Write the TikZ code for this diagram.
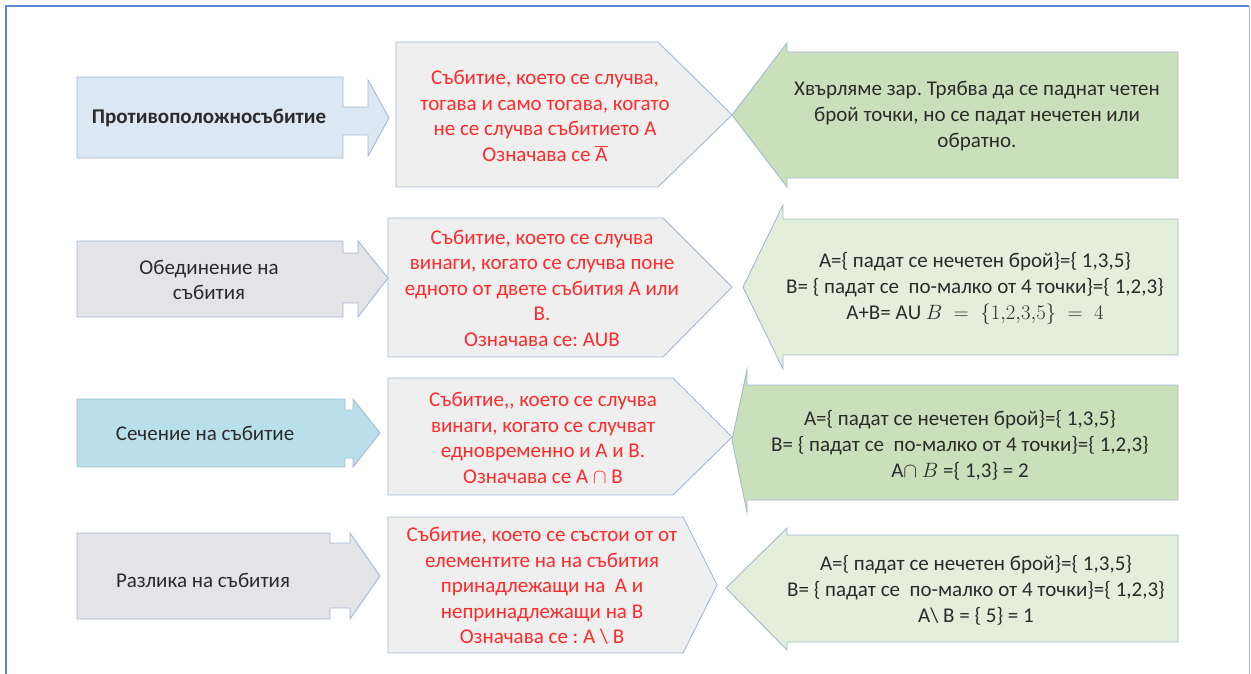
\documentclass[tikz,border=0pt]{standalone}
\usepackage{fontspec}
\setmainfont{Carlito}
\usepackage{xcolor}
\usepackage{tikz}
\usetikzlibrary{positioning}
\frenchspacing

\definecolor{edgeblue}{HTML}{A3B9D4}
\definecolor{frameblue}{HTML}{5A88D4}
\definecolor{iceblue}{HTML}{DCE7F4}
\definecolor{marble}{HTML}{E4E4E6}
\definecolor{waterblue}{HTML}{B9E0EA}
\definecolor{defgray}{HTML}{EFEFEF}
\definecolor{greendark}{HTML}{C9E0BA}
\definecolor{greenlight}{HTML}{E4EFDB}
\definecolor{defred}{HTML}{FF2A2A}
\definecolor{textgray}{HTML}{2B2B2B}

\begin{document}
\begin{tikzpicture}[x=1pt, y=-1pt,
    shapeline/.style={draw=edgeblue, line width=0.9pt},
    labeltext/.style={align=center, text=textgray, font=\fontsize{21}{25}\selectfont},
    deftext/.style={align=center, text=defred, font=\fontsize{21}{25.5}\selectfont},
    exampletext/.style={align=center, text=textgray, font=\fontsize{21}{26}\selectfont}]
        \useasboundingbox (0,0) rectangle (1251,674);
        % Frame
        \draw[frameblue, line width=2pt] (6,674) -- (6,6) -- (1249,6);
        \draw[edgeblue, line width=1pt] (1249,6) -- (1249,674);

        % Row 1
        \draw[shapeline, fill=iceblue] (77,77) -- (343,77) -- (343,107) -- (368,107) -- (368,80) -- (389,118)
            -- (368,156) -- (368,135) -- (343,135) -- (343,158) -- (77,158) -- cycle;
        \node[labeltext, font=\fontsize{21}{25}\selectfont\bfseries] (opp) at (209,118) {Противоположносъбитие};
        \draw[shapeline, fill=defgray] (396,42) -- (658,42) -- (732,115) -- (658,187) -- (396,187) -- cycle;
        \node[deftext] (oppdef) at (545,116) {Събитие, което се случва,\\тогава и само тогава, когато\\не се случва събитието А\\Означава се $\overline{\mathrm{A}}$};
        \draw[shapeline, fill=greendark] (732,115) -- (787,43) -- (787,52) -- (1178,52) -- (1178,178)
            -- (787,178) -- (787,187) -- cycle;
        \node[exampletext] (oppex) at (977,116) {Хвърляме зар. Трябва да се паднат четен\\брой точки, но се падат нечетен или\\обратно.};

        % Row 2
        \draw[shapeline, fill=marble] (77,241) -- (343,241) -- (343,253) -- (358,253) -- (358,241) -- (388,278)
            -- (358,317) -- (358,303) -- (343,303) -- (343,317) -- (77,317) -- cycle;
        \node[labeltext] (union) at (209,280) {Обединение на\\събития};
        \draw[shapeline, fill=defgray] (388,218) -- (663,218) -- (732,287) -- (663,357) -- (388,357) -- cycle;
        \node[deftext] (uniondef) at (542,288) {Събитие, което се случва\\винаги, когато се случва поне\\едното от двете събития А или\\В.\\Означава се: АUВ};
        \draw[shapeline, fill=greenlight] (743,287) -- (783,205) -- (783,219) -- (1178,219) -- (1178,355)
            -- (783,355) -- (783,369) -- cycle;
        \node[exampletext] (unionex) at (975,289) {А=\{ падат се нечетен брой\}=\{ 1,3,5\}\\В= \{ падат се\ \ по-малко от 4 точки\}=\{ 1,2,3\}\\А+В= АU $B\;=\;\{1{,}2{,}3{,}5\}\;=\;4$};

        % Row 3
        \draw[shapeline, fill=waterblue] (77,399) -- (345,399) -- (345,410) -- (353,410) -- (353,399) -- (380,433)
            -- (353,467) -- (353,458) -- (345,458) -- (345,467) -- (77,467) -- cycle;
        \node[labeltext] (inter) at (205,433) {Сечение на събитие};
        \draw[shapeline, fill=defgray] (388,378) -- (673,378) -- (732,437) -- (673,495) -- (388,495) -- cycle;
        \node[deftext] (interdef) at (543,438) {Събитие,{}, което се случва\\винаги, когато се случват\\едновременно и А и В.\\Означава се А $\cap$ $\mathrm{B}$};
        \draw[shapeline, fill=greendark] (732,440) -- (747,370) -- (747,385) -- (1178,385) -- (1178,500)
            -- (747,500) -- (747,512) -- cycle;
        \node[exampletext] (interex) at (960,445) {А=\{ падат се нечетен брой\}=\{ 1,3,5\}\\В= \{ падат се\ \ по-малко от 4 точки\}=\{ 1,2,3\}\\А$\cap$ $B$ =\{ 1,3\} = 2};

        % Row 4
        \draw[shapeline, fill=marble] (77,533) -- (330,533) -- (330,543) -- (350,543) -- (350,533) -- (380,576)
            -- (350,619) -- (350,608) -- (330,608) -- (330,619) -- (77,619) -- cycle;
        \node[labeltext] (diff) at (203,580) {Разлика на събития};
        \draw[shapeline, fill=defgray] (388,517) -- (683,517) -- (717,585) -- (683,653) -- (388,653) -- cycle;
        \node[deftext] (diffdef) at (542,586) {Събитие, което се състои от от\\елементите на на събития\\принадлежащи на\ \ А и\\непринадлежащи на В\\Означава се : А \textbackslash{} В};
        \draw[shapeline, fill=greenlight] (726,588) -- (787,528) -- (787,535) -- (1178,535) -- (1178,642)
            -- (787,642) -- (787,650) -- cycle;
        \node[exampletext] (diffex) at (976,590) {А=\{ падат се нечетен брой\}=\{ 1,3,5\}\\В= \{ падат се\ \ по-малко от 4 точки\}=\{ 1,2,3\}\\А\textbackslash{} В = \{ 5\} = 1};
      \end{tikzpicture}
\end{document}
